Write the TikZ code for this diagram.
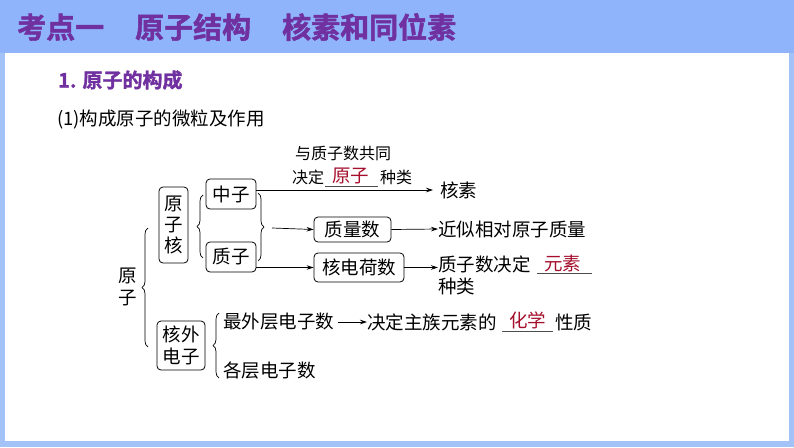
\documentclass[tikz,border=0pt]{standalone}
\usepackage{fontspec}
\setmainfont{Noto Sans CJK SC}
\newfontfamily\cjkb[FakeBold=1.5]{Noto Sans CJK SC Bold}
\usetikzlibrary{decorations.pathreplacing,arrows.meta}
\definecolor{hdr}{HTML}{8FB4FB}
\definecolor{frm}{HTML}{A3C2F8}
\definecolor{ttl}{HTML}{7030A0}
\definecolor{ans}{HTML}{A50F2C}
\tikzset{
  bx/.style={draw,rounded corners=4pt,line width=0.8pt,inner sep=1pt,font=\fontsize{18.5}{19}\selectfont},
  tx/.style={inner sep=0pt,font=\fontsize{18.5}{19}\selectfont,anchor=west},
  sm/.style={inner sep=0pt,font=\fontsize{16}{17}\selectfont},
  arr/.style={-{Stealth[length=7pt,width=4.5pt]},line width=0.7pt},
  br/.style={decorate,decoration={brace,amplitude=6pt},line width=0.7pt},
  ul/.style={line width=0.8pt,draw=black!70}
}
\begin{document}
\begin{tikzpicture}[x=1pt,y=-1pt]
\useasboundingbox (0,0) rectangle (794,447);
\fill[frm] (0,0) rectangle (794,447);
\fill[hdr] (0,0) rectangle (794,53);
\fill[white] (5,53) rectangle (789,441);
\node[anchor=west,inner sep=0pt,text=ttl,font=\cjkb\fontsize{29}{30}\selectfont] (h) at (17,27) {考点一\hspace{31pt}原子结构\hspace{31pt}核素和同位素};
\node[anchor=west,inner sep=0pt,text=ttl,font=\cjkb\fontsize{20}{21}\selectfont] (s1) at (58,80) {1. 原子的构成};
\node[tx] (s2) at (57,120) {(1)构成原子的微粒及作用};
% atom
\node[tx,align=center,anchor=center,font=\fontsize{18.5}{22}\selectfont] (yz) at (128,287) {原\\子};
\draw[br] (148,347) -- coordinate (bt) (148,228);
\node[bx,minimum width=29pt,minimum height=76pt,align=center,font=\fontsize{18.5}{21}\selectfont] (hz) at (173.5,225) {原\\子\\核};
\node[bx,minimum width=48pt,minimum height=49pt,align=center,font=\fontsize{18.5}{22}\selectfont] (hw) at (181,345.5) {核外\\电子};
\draw[br] (203,258) -- (203,195);
\node[bx,minimum width=50pt,minimum height=30pt] (zz) at (231,194) {中子};
\node[bx,minimum width=50pt,minimum height=30pt] (zp) at (231,257) {质子};
\draw[br] (258,193) -- coordinate (rt) (258,261);
\coordinate (rtip) at (272,228);
\node[bx,minimum width=77pt,minimum height=25pt] (zl) at (352.5,229.5) {质量数};
\node[bx,minimum width=90pt,minimum height=29pt] (hd) at (359,267.5) {核电荷数};
\node[tx] (hs) at (440,190) {核素};
\node[tx] (jx) at (438,229) {近似相对原子质量};
\node[tx] (jd) at (438,264) {质子数决定};
\node[tx,text=ans] (ys) at (544,263) {元素};
\draw[ul] (537,273) -- (592,273);
\node[tx] (zl2) at (438,286) {种类};
\node[sm] (l1) at (343,153) {与质子数共同};
\node[sm,anchor=west] (l2) at (292,177) {决定};
\node[tx,text=ans] (l3) at (332,176) {原子};
\draw[ul] (325,186) -- (378,186);
\node[sm,anchor=west] (l4) at (380,177) {种类};
\coordinate (zze) at (256,190);
\coordinate (hse) at (433,190);
\draw[arr] (zze) -- (hse);
\draw[arr] (rtip) -- (zl.west);
\draw[arr] (zp.east |- hd.west) -- (hd.west);
\draw[arr] (zl.east) -- (jx.west);
\draw[arr] (hd.east) -- (jd.west |- hd.east);
% electrons
\draw[br] (219,378) -- (219,313);
\node[tx] (zw) at (223,322) {最外层电子数};
\node[tx] (jz) at (367,322) {决定主族元素的};
\node[tx,text=ans] (hx) at (509,320) {化学};
\draw[ul] (502,331) -- (553,331);
\node[tx] (xz) at (555,322) {性质};
\draw[arr] (zw.east) ++(4,0) -- (jz.west);
\node[tx] (gc) at (223,370) {各层电子数};
\end{tikzpicture}
\end{document}
